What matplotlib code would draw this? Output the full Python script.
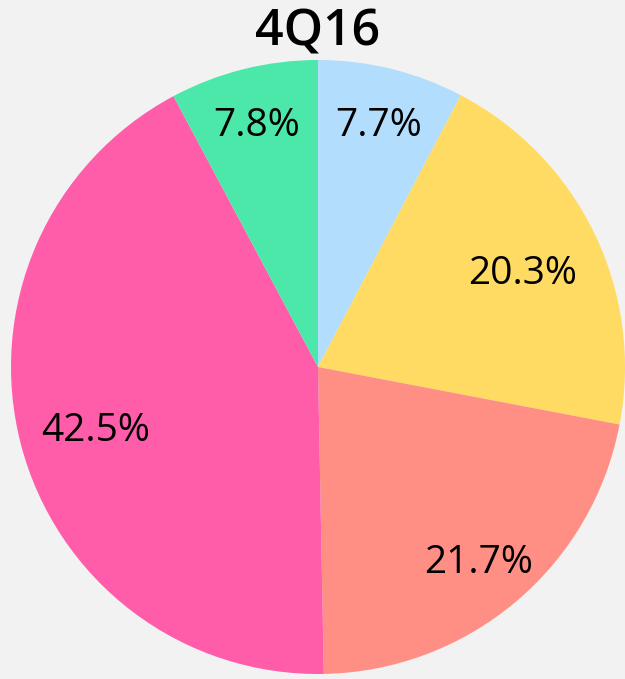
import matplotlib
matplotlib.use("Agg")
import matplotlib.pyplot as plt
import numpy as np

plt.rcParams['font.family'] = ['Open Sans', 'DejaVu Sans']

title = "4Q16"
shares = [7.7, 20.3, 21.7, 42.5, 7.8]
colors = ["#b3ddfd", "#ffdb63", "#ff8f85", "#ff5daa", "#4be8aa"]
label_dist = [0.83, 0.74, 0.81, 0.75, 0.83]

fig = plt.figure(figsize=(6.25, 6.79), dpi=100)
fig.patch.set_facecolor("#f2f2f2")

cx, cy, r = 318, 367, 307
W, H = 625, 679
ax = fig.add_axes([(cx - r) / W, (H - cy - r) / H, 2 * r / W, 2 * r / H])
ax.set_facecolor("#f2f2f2")

wedges, texts, autotexts = ax.pie(shares, colors=colors, startangle=90, counterclock=False,
                                  autopct=lambda p: "%.1f%%" % p, pctdistance=0.78,
                                  radius=1.0, wedgeprops=dict(linewidth=0),
                                  textprops=dict(fontsize=28, color="black"))

# nudge labels radially, and a touch lower
for w, t, d in zip(wedges, autotexts, label_dist):
    ang = np.deg2rad((w.theta1 + w.theta2) / 2)
    t.set_position((d * np.cos(ang), d * np.sin(ang) - 0.02))

ax.set_xlim(-1, 1)
ax.set_ylim(-1, 1)
ax.set_aspect("equal")
ax.axis("off")

fig.text(cx / W, 1 - 33 / H, title, ha="center", va="center", fontsize=36, fontweight="semibold")

fig.savefig("out.png", dpi=100, facecolor=fig.get_facecolor())
